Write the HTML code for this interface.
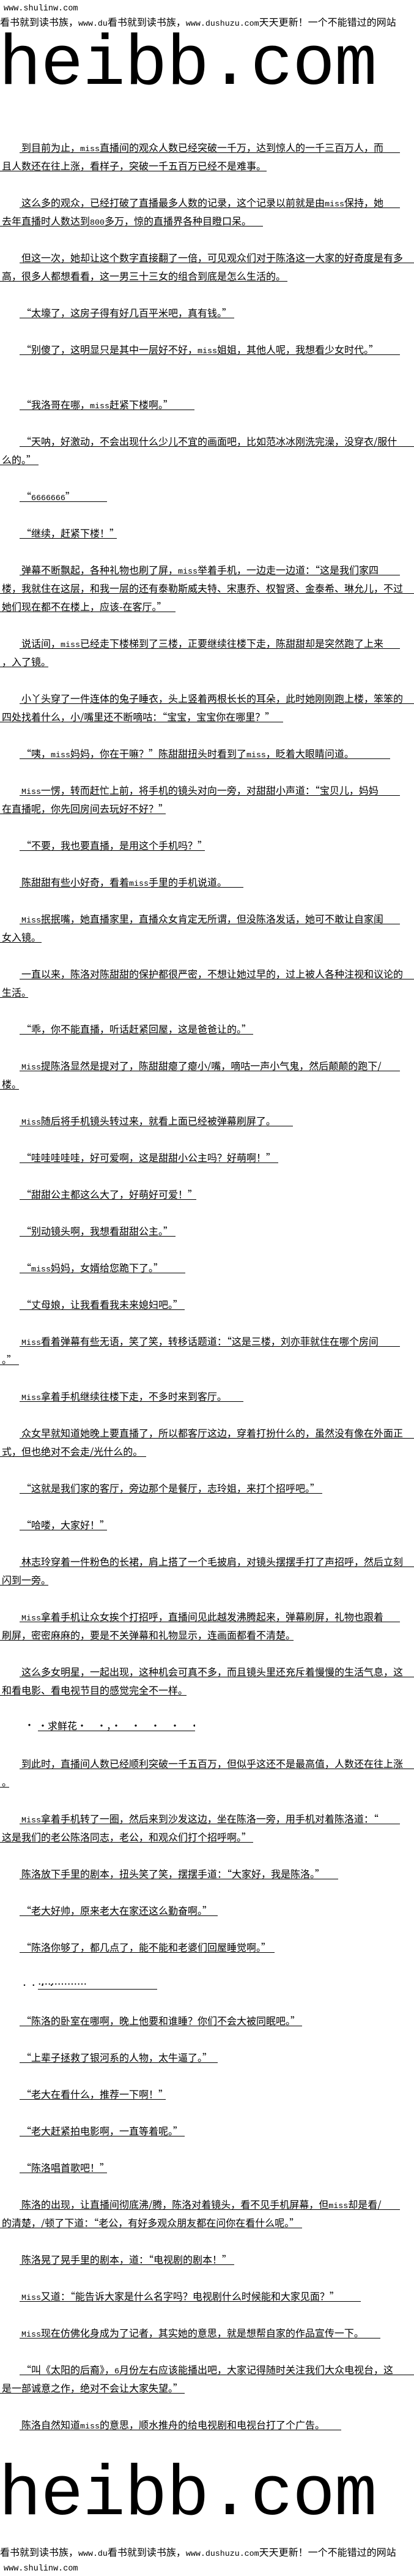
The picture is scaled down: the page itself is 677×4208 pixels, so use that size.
<!DOCTYPE html>
<html><head><meta charset="utf-8">
<style>
html,body{margin:0;padding:0;background:#fff;}
body{width:677px;height:4208px;position:relative;overflow:hidden;font-family:"Noto Sans CJK SC","WenQuanYi Zen Hei",sans-serif;color:#000;}
.t{position:absolute;height:17px;line-height:15px;font-size:16px;white-space:nowrap;border-bottom:1px solid #000;box-sizing:border-box;padding-left:3px;overflow:hidden;}
i{font-style:normal;font-family:"Liberation Mono",monospace;font-size:13.3px;}
.h{position:absolute;left:0;white-space:nowrap;font-size:16px;line-height:18px;}
.s{position:absolute;left:6px;font-family:"Liberation Mono",monospace;font-size:13.5px;line-height:16px;white-space:nowrap;}
.wm{position:absolute;left:0;width:677px;overflow:hidden;}
.wm span{position:absolute;left:-2px;font-family:"Liberation Mono",monospace;font-size:116px;line-height:116px;white-space:nowrap;letter-spacing:-1px;}
</style></head><body>

<div class="s" style="top:7px">www.shulinw.com</div>
<div class="h" style="top:26px">看书就到读书族，<i>www.du</i>看书就到读书族，<i>www.dushuzu.com</i>天天更新！一个不能错过的网站</div>
<div class="wm" style="top:50px;height:100px"><span style="top:-2px">heibb.com</span></div>

<div class="t" style="top:233px;left:32px;width:622px">到目前为止，<i>miss</i>直播间的观众人数已经突破一千万，达到惊人的一千三百万人，而</div>
<div class="t" style="top:263px;left:0;width:436px">且人数还在往上涨，看样子，突破一千五百万已经不是难事。</div>
<div class="t" style="top:323px;left:32px;width:622px">这么多的观众，已经打破了直播最多人数的记录，这个记录以前就是由<i>miss</i>保持，她</div>
<div class="t" style="top:353px;left:0;width:430px">去年直播时人数达到<i>800</i>多万，惊的直播界各种目瞪口呆。</div>
<div class="t" style="top:413px;left:32px;width:645px">但这一次，她却让这个数字直接翻了一倍，可见观众们对于陈洛这一大家的好奇度是有多</div>
<div class="t" style="top:443px;left:0;width:470px">高，很多人都想看看，这一男三十三女的组合到底是怎么生活的。</div>
<div class="t" style="top:503px;left:32px;width:351px">“太壕了，这房子得有好几百平米吧，真有钱。”</div>
<div class="t" style="top:563px;left:32px;width:622px">“别傻了，这明显只是其中一层好不好，<i>miss</i>姐姐，其他人呢，我想看少女时代。”</div>
<div class="t" style="top:653px;left:32px;width:286px">“我洛哥在哪，<i>miss</i>赶紧下楼啊。”</div>
<div class="t" style="top:713px;left:32px;width:645px">“天呐，好激动，不会出现什么少儿不宜的画面吧，比如范冰冰刚洗完澡，没穿衣/服什</div>
<div class="t" style="top:743px;left:0;width:63px">么的。”</div>
<div class="t" style="top:803px;left:32px;width:143px">“<i>6666666</i>”</div>
<div class="t" style="top:863px;left:32px;width:159px">“继续，赶紧下楼！”</div>
<div class="t" style="top:923px;left:32px;width:622px">弹幕不断飘起，各种礼物也刷了屏，<i>miss</i>举着手机，一边走一边道：“这是我们家四</div>
<div class="t" style="top:953px;left:0;width:677px">楼，我就住在这层，和我一层的还有泰勒斯威夫特、宋惠乔、权智贤、金泰希、琳允儿，不过</div>
<div class="t" style="top:983px;left:0;width:287px">她们现在都不在楼上，应该-在客厅。”</div>
<div class="t" style="top:1043px;left:32px;width:622px">说话间，<i>miss</i>已经走下楼梯到了三楼，正要继续往楼下走，陈甜甜却是突然跑了上来</div>
<div class="t" style="top:1073px;left:0;width:79px">，入了镜。</div>
<div class="t" style="top:1133px;left:32px;width:645px">小丫头穿了一件连体的兔子睡衣，头上竖着两根长长的耳朵，此时她刚刚跑上楼，笨笨的</div>
<div class="t" style="top:1163px;left:0;width:463px">四处找着什么，小/嘴里还不断嘀咕：“宝宝，宝宝你在哪里？”</div>
<div class="t" style="top:1223px;left:32px;width:606px">“咦，<i>miss</i>妈妈，你在干嘛？”陈甜甜扭头时看到了<i>miss</i>，眨着大眼睛问道。</div>
<div class="t" style="top:1283px;left:32px;width:622px"><i>Miss</i>一愣，转而赶忙上前，将手机的镜头对向一旁，对甜甜小声道：“宝贝儿，妈妈</div>
<div class="t" style="top:1313px;left:0;width:271px">在直播呢，你先回房间去玩好不好？”</div>
<div class="t" style="top:1373px;left:32px;width:303px">“不要，我也要直播，是用这个手机吗？”</div>
<div class="t" style="top:1433px;left:32px;width:366px">陈甜甜有些小好奇，看着<i>miss</i>手里的手机说道。</div>
<div class="t" style="top:1493px;left:32px;width:622px"><i>Miss</i>抿抿嘴，她直播家里，直播众女肯定无所谓，但没陈洛发话，她可不敢让自家闺</div>
<div class="t" style="top:1523px;left:0;width:68px">女入镜。</div>
<div class="t" style="top:1583px;left:32px;width:645px">一直以来，陈洛对陈甜甜的保护都很严密，不想让她过早的，过上被人各种注视和议论的</div>
<div class="t" style="top:1613px;left:0;width:46px">生活。</div>
<div class="t" style="top:1673px;left:32px;width:382px">“乖，你不能直播，听话赶紧回屋，这是爸爸让的。”</div>
<div class="t" style="top:1733px;left:32px;width:622px"><i>Miss</i>提陈洛显然是提对了，陈甜甜瘪了瘪小/嘴，嘀咕一声小气鬼，然后颠颠的跑下/</div>
<div class="t" style="top:1763px;left:0;width:31px">楼。</div>
<div class="t" style="top:1823px;left:32px;width:447px"><i>Miss</i>随后将手机镜头转过来，就看上面已经被弹幕刷屏了。</div>
<div class="t" style="top:1883px;left:32px;width:423px">“哇哇哇哇哇，好可爱啊，这是甜甜小公主吗？好萌啊！”</div>
<div class="t" style="top:1943px;left:32px;width:289px">“甜甜公主都这么大了，好萌好可爱！”</div>
<div class="t" style="top:2003px;left:32px;width:255px">“别动镜头啊，我想看甜甜公主。”</div>
<div class="t" style="top:2063px;left:32px;width:271px">“<i>miss</i>妈妈，女婿给您跪下了。”</div>
<div class="t" style="top:2123px;left:32px;width:270px">“丈母娘，让我看看我未来媳妇吧。”</div>
<div class="t" style="top:2183px;left:32px;width:622px"><i>Miss</i>看着弹幕有些无语，笑了笑，转移话题道：“这是三楼，刘亦菲就住在哪个房间</div>
<div class="t" style="top:2213px;left:0;width:31px">。”</div>
<div class="t" style="top:2273px;left:32px;width:366px"><i>Miss</i>拿着手机继续往楼下走，不多时来到客厅。</div>
<div class="t" style="top:2333px;left:32px;width:645px">众女早就知道她晚上要直播了，所以都客厅这边，穿着打扮什么的，虽然没有像在外面正</div>
<div class="t" style="top:2363px;left:0;width:239px">式，但也绝对不会走/光什么的。</div>
<div class="t" style="top:2423px;left:32px;width:495px">“这就是我们家的客厅，旁边那个是餐厅，志玲姐，来打个招呼吧。”</div>
<div class="t" style="top:2483px;left:32px;width:143px">“哈喽，大家好！”</div>
<div class="t" style="top:2543px;left:32px;width:645px">林志玲穿着一件粉色的长裙，肩上搭了一个毛披肩，对镜头摆摆手打了声招呼，然后立刻</div>
<div class="t" style="top:2573px;left:0;width:79px">闪到一旁。</div>
<div class="t" style="top:2633px;left:32px;width:622px"><i>Miss</i>拿着手机让众女挨个打招呼，直播间见此越发沸腾起来，弹幕刷屏，礼物也跟着</div>
<div class="t" style="top:2663px;left:0;width:480px">刷屏，密密麻麻的，要是不关弹幕和礼物显示，连画面都看不清楚。</div>
<div class="t" style="top:2723px;left:32px;width:645px">这么多女明星，一起出现，这种机会可真不多，而且镜头里还充斥着慢慢的生活气息，这</div>
<div class="t" style="top:2753px;left:0;width:305px">和看电影、看电视节目的感觉完全不一样。</div>
<div class="h" style="top:2808px;left:40px">·</div>
<div class="t" style="top:2811px;left:62px;width:257px;padding-left:0">·求鲜花·　·，·　·　·　·　·，·</div>
<div class="t" style="top:2873px;left:32px;width:645px">到此时，直播间人数已经顺利突破一千五百万，但似乎这还不是最高值，人数还在往上涨</div>
<div class="t" style="top:2903px;left:0;width:15px">。</div>
<div class="t" style="top:2963px;left:32px;width:622px"><i>Miss</i>拿着手机转了一圈，然后来到沙发这边，坐在陈洛一旁，用手机对着陈洛道：“</div>
<div class="t" style="top:2993px;left:0;width:414px">这是我们的老公陈洛同志，老公，和观众们打个招呼啊。”</div>
<div class="t" style="top:3053px;left:32px;width:521px">陈洛放下手里的剧本，扭头笑了笑，摆摆手道：“大家好，我是陈洛。”</div>
<div class="t" style="top:3113px;left:32px;width:324px">“老大好帅，原来老大在家还这么勤奋啊。”</div>
<div class="t" style="top:3173px;left:32px;width:417px">“陈洛你够了，都几点了，能不能和老婆们回屋睡觉啊。”</div>
<div class="h" style="top:3234px;left:34px;font-size:12px">· · · ·</div>
<div class="t" style="top:3233px;left:62px;width:195px;padding-left:0">……………</div>
<div class="t" style="top:3293px;left:32px;width:462px">“陈洛的卧室在哪啊，晚上他要和谁睡？你们不会大被同眠吧。”</div>
<div class="t" style="top:3353px;left:32px;width:324px">“上辈子拯救了银河系的人物，太牛逼了。”</div>
<div class="t" style="top:3413px;left:32px;width:239px">“老大在看什么，推荐一下啊！”</div>
<div class="t" style="top:3473px;left:32px;width:270px">“老大赶紧拍电影啊，一直等着呢。”</div>
<div class="t" style="top:3533px;left:32px;width:143px">“陈洛唱首歌吧！”</div>
<div class="t" style="top:3593px;left:32px;width:622px">陈洛的出现，让直播间彻底沸/腾，陈洛对着镜头，看不见手机屏幕，但<i>miss</i>却是看/</div>
<div class="t" style="top:3623px;left:0;width:494px">的清楚，/顿了下道：“老公，有好多观众朋友都在问你在看什么呢。”</div>
<div class="t" style="top:3683px;left:32px;width:351px">陈洛晃了晃手里的剧本，道：“电视剧的剧本！”</div>
<div class="t" style="top:3743px;left:32px;width:558px"><i>Miss</i>又道：“能告诉大家是什么名字吗？电视剧什么时候能和大家见面？”</div>
<div class="t" style="top:3803px;left:32px;width:590px"><i>Miss</i>现在仿佛化身成为了记者，其实她的意思，就是想帮自家的作品宣传一下。</div>
<div class="t" style="top:3863px;left:32px;width:645px">“叫《太阳的后裔》，<i>6</i>月份左右应该能播出吧，大家记得随时关注我们大众电视台，这</div>
<div class="t" style="top:3893px;left:0;width:302px">是一部诚意之作，绝对不会让大家失望。”</div>
<div class="t" style="top:3953px;left:32px;width:526px">陈洛自然知道<i>miss</i>的意思，顺水推舟的给电视剧和电视台打了个广告。</div>

<div class="wm" style="top:4023px;height:100px"><span style="top:-5px">heibb.com</span></div>
<div class="h" style="top:4159px">看书就到读书族，<i>www.du</i>看书就到读书族，<i>www.dushuzu.com</i>天天更新！一个不能错过的网站</div>
<div class="s" style="top:4189px">www.shulinw.com</div>
</body></html>
